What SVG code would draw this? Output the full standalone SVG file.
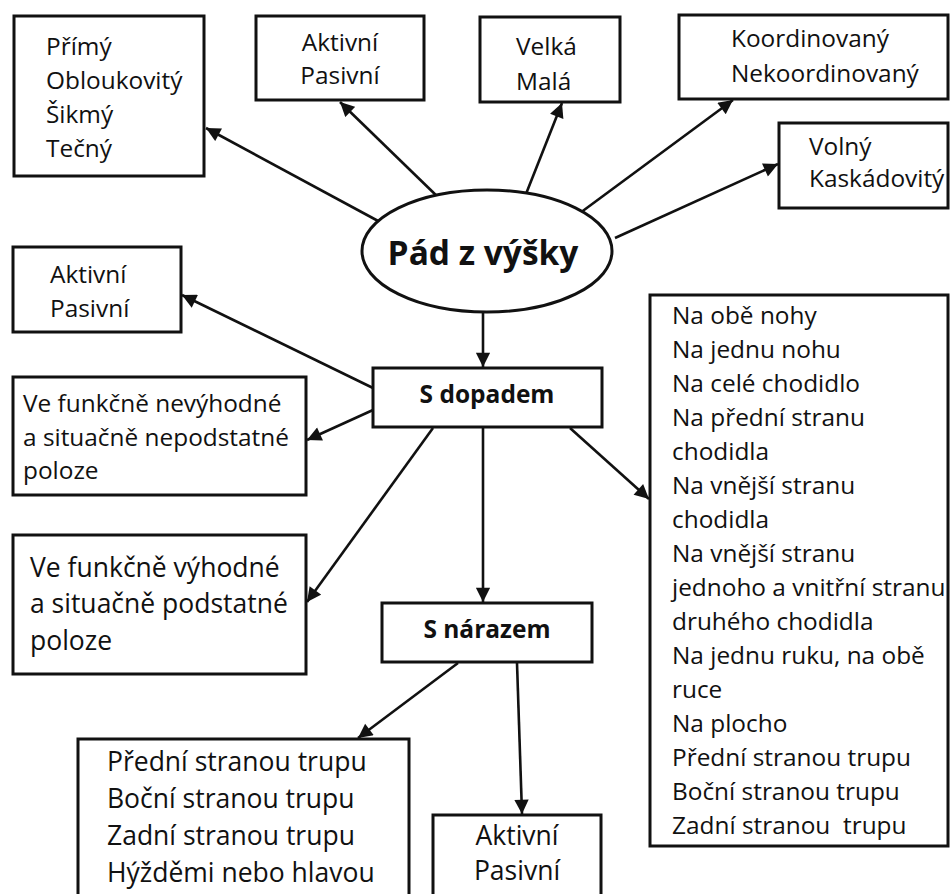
<svg xmlns="http://www.w3.org/2000/svg" width="950" height="894" viewBox="0 0 950 894">
  <style>
    .box { fill: #fff; stroke: #111; stroke-width: 3; }
    .t { font-family: "Open Sans", Lato, sans-serif; font-size: 24.4px; fill: #111; }
    .tl { font-family: "Open Sans", Lato, sans-serif; font-size: 26.5px; fill: #111; }
    .b { font-family: "Open Sans", Lato, sans-serif; font-weight: bold; fill: #111; }
    .c { text-anchor: middle; }
    .edge { stroke: #111; stroke-width: 2.6; fill: none; marker-end: url(#arrow); }
  </style>
  <defs>
    <marker id="arrow" viewBox="0 0 10 10" refX="10" refY="5" markerWidth="6" markerHeight="5.5" markerUnits="strokeWidth" orient="auto">
      <path d="M0,0 L10,5 L0,10 z" fill="#111"/>
    </marker>
  </defs>
  <rect width="950" height="894" fill="#fff"/>

  <g id="edges">
    <line class="edge" x1="380" y1="222" x2="206" y2="128"/>
    <line class="edge" x1="441" y1="200" x2="340" y2="102"/>
    <line class="edge" x1="524" y1="199" x2="562" y2="103"/>
    <line class="edge" x1="580" y1="213" x2="733" y2="100"/>
    <line class="edge" x1="615" y1="238" x2="778" y2="164"/>
    <line class="edge" x1="483" y1="313" x2="483" y2="367"/>
    <line class="edge" x1="373" y1="388" x2="182" y2="295"/>
    <line class="edge" x1="373" y1="410" x2="307" y2="440"/>
    <line class="edge" x1="433" y1="428" x2="307" y2="602"/>
    <line class="edge" x1="570" y1="428" x2="649" y2="499"/>
    <line class="edge" x1="483" y1="428" x2="483" y2="602"/>
    <line class="edge" x1="458" y1="663" x2="358" y2="738"/>
    <line class="edge" x1="517" y1="663" x2="522" y2="814"/>
  </g>

  <g id="root">
    <ellipse cx="487" cy="251" rx="125" ry="61" fill="#fff" stroke="#111" stroke-width="3"/>
    <text class="b c" x="483" y="265" font-size="33.5">Pád z výšky</text>
  </g>

  <g id="direction">
    <rect class="box" x="14" y="16" width="190" height="160"/>
    <text class="t" x="46" y="55">Přímý</text>
    <text class="t" x="46" y="89">Obloukovitý</text>
    <text class="t" x="46" y="123">Šikmý</text>
    <text class="t" x="46" y="157">Tečný</text>
  </g>

  <g id="activity-top">
    <rect class="box" x="256" y="16" width="168" height="84"/>
    <text class="t c" x="340" y="51">Aktivní</text>
    <text class="t c" x="340" y="84">Pasivní</text>
  </g>

  <g id="height">
    <rect class="box" x="480" y="17" width="140" height="85"/>
    <text class="t" x="516" y="55">Velká</text>
    <text class="t" x="516" y="90">Malá</text>
  </g>

  <g id="coordination">
    <rect class="box" x="679" y="15" width="269" height="84"/>
    <text class="t" x="731" y="47">Koordinovaný</text>
    <text class="t" x="731" y="82">Nekoordinovaný</text>
  </g>

  <g id="course">
    <rect class="box" x="779" y="123" width="169" height="85"/>
    <text class="t" x="809" y="155">Volný</text>
    <text class="t" x="809" y="187">Kaskádovitý</text>
  </g>

  <g id="s-dopadem">
    <rect class="box" x="373" y="368" width="229" height="59"/>
    <text class="b c" x="487" y="403" font-size="24.5">S dopadem</text>
  </g>

  <g id="activity-left">
    <rect class="box" x="13" y="247" width="168" height="85"/>
    <text class="t" x="50" y="283">Aktivní</text>
    <text class="t" x="50" y="317">Pasivní</text>
  </g>

  <g id="unfavourable">
    <rect class="box" x="13" y="377" width="293" height="118"/>
    <text class="t" x="23" y="412">Ve funkčně nevýhodné</text>
    <text class="t" x="23" y="446">a situačně nepodstatné</text>
    <text class="t" x="23" y="479">poloze</text>
  </g>

  <g id="favourable">
    <rect class="box" x="13" y="535" width="293" height="139"/>
    <text class="tl" x="30" y="577">Ve funkčně výhodné</text>
    <text class="tl" x="30" y="613">a situačně podstatné</text>
    <text class="tl" x="30" y="650">poloze</text>
  </g>

  <g id="landing">
    <rect class="box" x="650" y="295" width="298" height="551"/>
    <text class="t" x="672" y="324">Na obě nohy</text>
    <text class="t" x="672" y="358">Na jednu nohu</text>
    <text class="t" x="672" y="392">Na celé chodidlo</text>
    <text class="t" x="672" y="426">Na přední stranu</text>
    <text class="t" x="672" y="460">chodidla</text>
    <text class="t" x="672" y="494">Na vnější stranu</text>
    <text class="t" x="672" y="528">chodidla</text>
    <text class="t" x="672" y="562">Na vnější stranu</text>
    <text class="t" x="672" y="596">jednoho a vnitřní stranu</text>
    <text class="t" x="672" y="630">druhého chodidla</text>
    <text class="t" x="672" y="664">Na jednu ruku, na obě</text>
    <text class="t" x="672" y="698">ruce</text>
    <text class="t" x="672" y="732">Na plocho</text>
    <text class="t" x="672" y="766">Přední stranou trupu</text>
    <text class="t" x="672" y="800">Boční stranou trupu</text>
    <text class="t" x="672" y="834">Zadní stranou&#160; trupu</text>
  </g>

  <g id="s-narazem">
    <rect class="box" x="382" y="603" width="210" height="59"/>
    <text class="b c" x="487" y="638" font-size="24.5">S nárazem</text>
  </g>

  <g id="impact-body">
    <rect class="box" x="78" y="739" width="331" height="170"/>
    <text class="tl" x="107" y="771">Přední stranou trupu</text>
    <text class="tl" x="107" y="808">Boční stranou trupu</text>
    <text class="tl" x="107" y="845">Zadní stranou trupu</text>
    <text class="tl" x="107" y="882">Hýžděmi nebo hlavou</text>
  </g>

  <g id="activity-bottom">
    <rect class="box" x="433" y="815" width="168" height="100"/>
    <text class="tl c" x="517" y="845">Aktivní</text>
    <text class="tl c" x="517" y="880">Pasivní</text>
  </g>
</svg>
